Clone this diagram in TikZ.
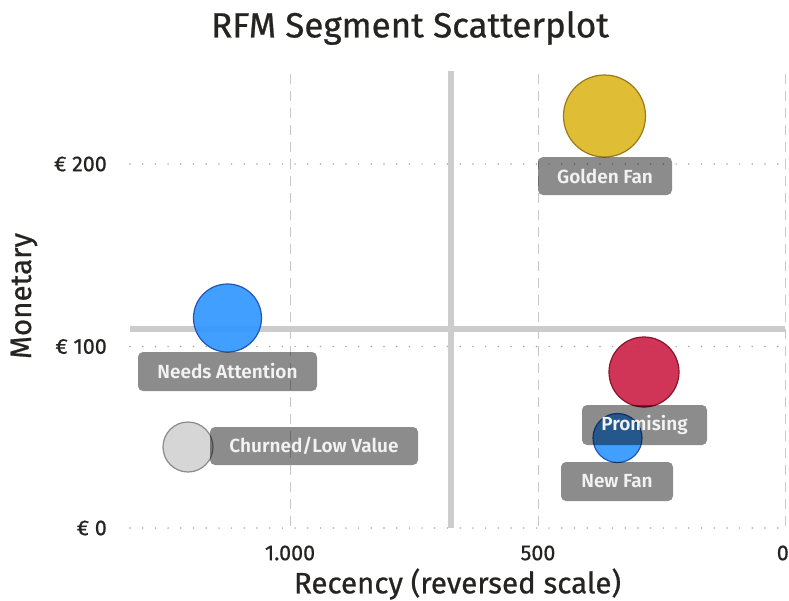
\documentclass[tikz,border=0pt]{standalone}
\usepackage{fontspec}
\IfFontExistsTF{Fira Sans SemiBold}{\setmainfont{Fira Sans}[FakeBold=0.7,BoldFont={Fira Sans SemiBold},BoldFeatures={FakeBold=0}]}{\setmainfont{Fira Sans}}
\definecolor{inkc}{HTML}{252423}
\definecolor{goldf}{HTML}{DDB927}
\definecolor{goldd}{HTML}{9A7A12}
\definecolor{bluef}{HTML}{3399FF}
\definecolor{blued}{HTML}{1F55B8}
\definecolor{redf}{HTML}{CC2549}
\definecolor{redd}{HTML}{8A1428}
\definecolor{greyf}{HTML}{D3D3D3}
\definecolor{greyd}{HTML}{8A8A8A}
\begin{document}
\begin{tikzpicture}[x=1pt,y=-1pt,
  vgrid/.style={draw=black!22, line width=1pt, dash pattern=on 10pt off 7pt},
  hgrid/.style={draw=black!35, line width=1.7pt, line cap=round, dash pattern=on 0pt off 12.7pt},
  refline/.style={draw=black!20, line width=5.5pt},
  bubble/.style={circle, draw, line width=1.2pt, inner sep=0pt, fill opacity=0.93},
  seglabel/.style={rounded corners=5pt, fill=black, fill opacity=0.45, text opacity=1, text=white!95!black,
    font=\fontsize{19}{22}\selectfont\bfseries, inner sep=0pt, minimum height=38pt},
  tick/.style={text=inkc, font=\fontsize{21.5}{24}\selectfont, inner sep=0pt},
  axtitle/.style={text=inkc, font=\fontsize{29.5}{34}\selectfont, inner sep=0pt}
]
\useasboundingbox (0,0) rectangle (789,600);
% title
\node[text=inkc, font=\fontsize{35}{40}\selectfont, inner sep=0pt] (title) at (410,28) {RFM Segment Scatterplot};
% gridlines
\coordinate (g1t) at (290,74); \coordinate (g1b) at (290,528);
\coordinate (g2t) at (538,74); \coordinate (g2b) at (538,528);
\coordinate (g3t) at (785,74); \coordinate (g3b) at (785,528);
\draw[vgrid] (g1t) -- (g1b);
\draw[vgrid] (g2t) -- (g2b);
\draw[vgrid] (g3t) -- (g3b);
\coordinate (h1l) at (130,164); \coordinate (h1r) at (782,164);
\coordinate (h2l) at (130,346.5); \coordinate (h2r) at (782,346.5);
\coordinate (h3l) at (130,528); \coordinate (h3r) at (782,528);
\draw[hgrid] (h1l) -- (h1r);
\draw[hgrid] (h2l) -- (h2r);
\draw[hgrid] (h3l) -- (h3r);
% reference lines
\coordinate (rvt) at (451,71); \coordinate (rvb) at (451,528);
\coordinate (rhl) at (130,329); \coordinate (rhr) at (785,329);
\draw[refline] (rvt) -- (rvb);
\draw[refline] (rhl) -- (rhr);
% axis ticks
\node[tick, anchor=east] (y200) at (107,164) {€ 200};
\node[tick, anchor=east] (y100) at (107,346.5) {€ 100};
\node[tick, anchor=east] (y0) at (107,528) {€ 0};
\node[tick] (x1000) at (290,553) {1.000};
\node[tick] (x500) at (538,553) {500};
\node[tick, anchor=east] (x0) at (789,553) {0};
% axis titles
\node[axtitle] (xtitle) at (457.5,584) {Recency (reversed scale)};
\node[axtitle, rotate=90] (ytitle) at (24,296) {Monetary};
% bubbles
\node[bubble, fill=goldf, draw=goldd, minimum size=82pt] (golden) at (604.5,116) {};
\node[bubble, fill=bluef, draw=blued, minimum size=68pt] (attn) at (227.5,318) {};
\node[bubble, fill=greyf, draw=greyd, minimum size=50pt] (churn) at (188,447) {};
\node[bubble, fill=redf, draw=redd, minimum size=70pt] (prom) at (644,372) {};
\node[bubble, fill=bluef, draw=blued, minimum size=49pt] (newfan) at (617.5,438) {};
% labels
\node[seglabel, minimum width=134pt] (lgolden) at (605,176) {Golden Fan};
\node[seglabel, minimum width=179pt, minimum height=39pt] (lattn) at (227.5,371.5) {Needs Attention};
\node[seglabel, minimum width=208pt] (lchurn) at (314,446) {Churned/Low Value};
\node[seglabel, minimum width=125pt, minimum height=40pt] (lprom) at (644.5,425) {Promising};
\node[seglabel, minimum width=112pt, minimum height=39pt] (lnewfan) at (617,481.5) {New Fan};
\end{tikzpicture}
\end{document}
